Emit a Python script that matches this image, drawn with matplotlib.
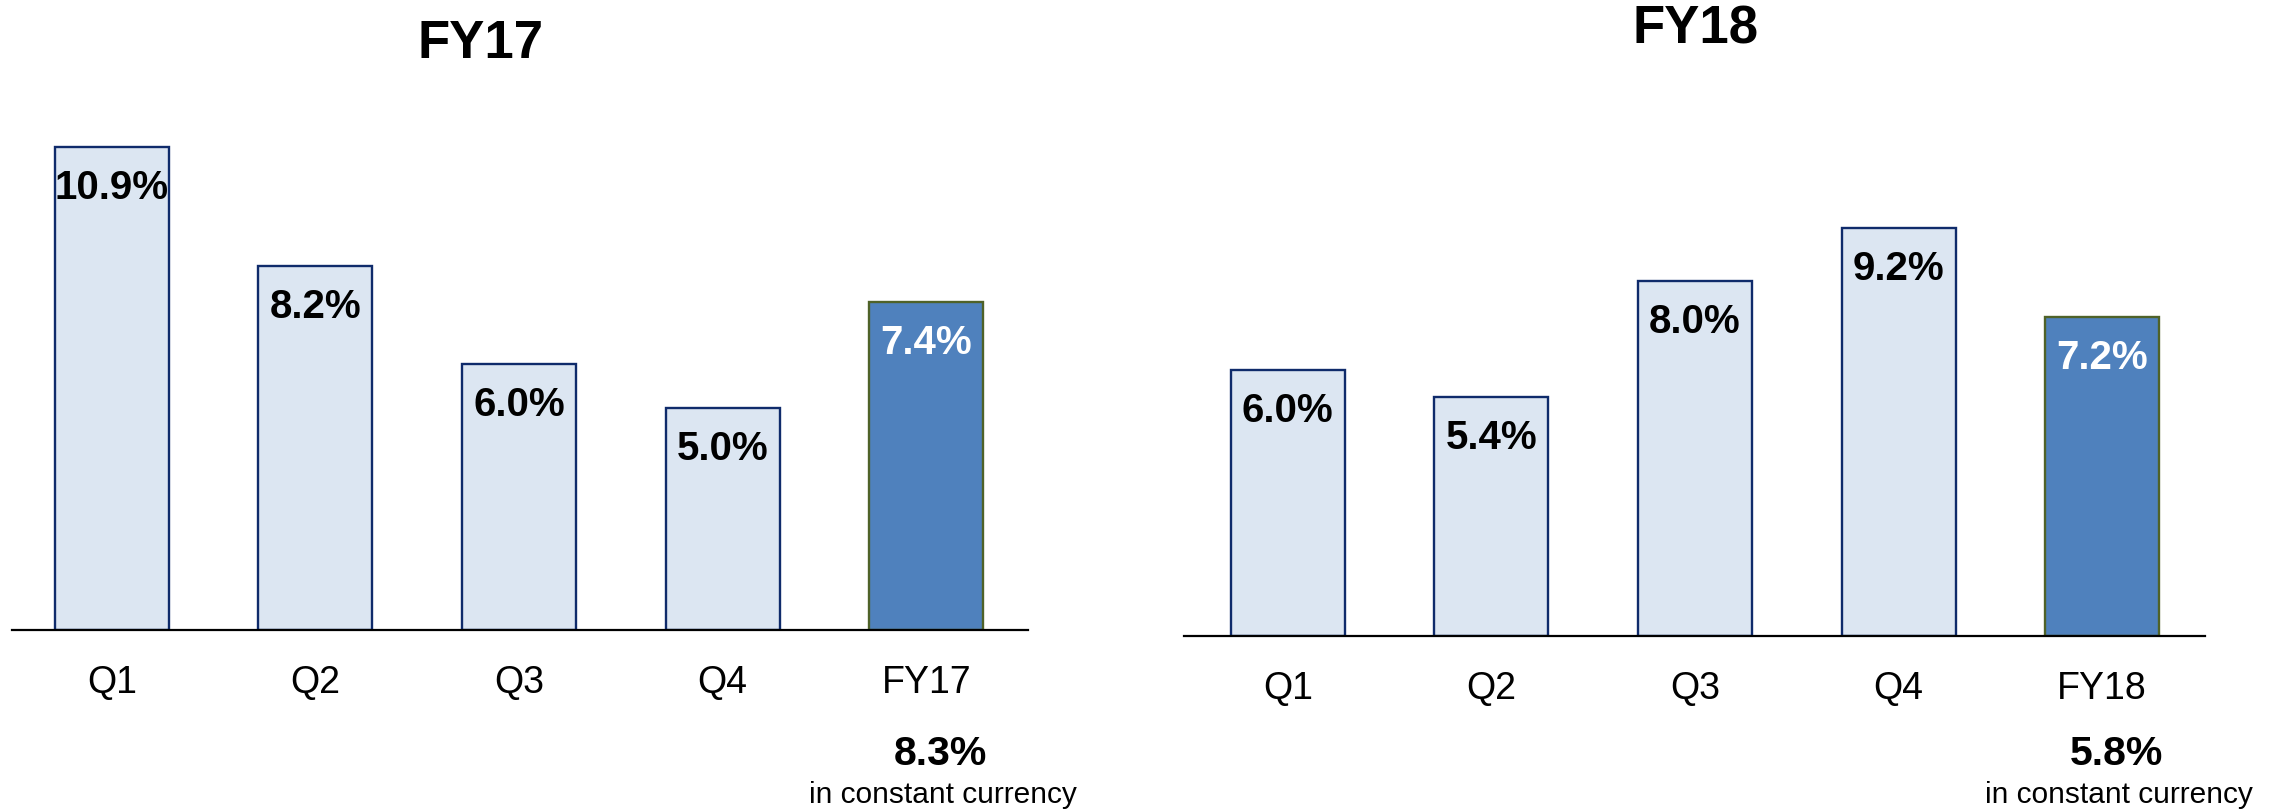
import numpy as np
import matplotlib.pyplot as plt
from matplotlib import transforms

plt.rcParams['font.family'] = ['Liberation Sans', 'DejaVu Sans']

# data
cats_17 = ['Q1', 'Q2', 'Q3', 'Q4', 'FY17']
vals_17 = [10.9, 8.2, 6.0, 5.0, 7.4]
cats_18 = ['Q1', 'Q2', 'Q3', 'Q4', 'FY18']
vals_18 = [6.0, 5.4, 8.0, 9.2, 7.2]
cc_17 = '8.3%'
cc_18 = '5.8%'

light_fill = '#DCE6F2'
light_edge = '#0F2B6B'
dark_fill = '#4F81BD'
dark_edge = '#4F6228'

W, H = 2287, 809
fig = plt.figure(figsize=(W / 100, H / 100), dpi=100)


def draw_panel(rect, cats, vals, title, title_xy, cc, xlim):
    ax = fig.add_axes(rect)
    x = np.arange(len(cats))
    fills = [light_fill] * (len(cats) - 1) + [dark_fill]
    edges = [light_edge] * (len(cats) - 1) + [dark_edge]
    ax.bar(x, vals, width=0.56, color=fills, edgecolor=edges, linewidth=1.7, zorder=2)
    ax.set_xlim(*xlim)
    ax.set_ylim(0, 12)
    for s in ['top', 'right', 'left']:
        ax.spines[s].set_visible(False)
    ax.spines['bottom'].set_linewidth(1.6)
    ax.spines['bottom'].set_zorder(3)
    ax.set_yticks([])
    ax.set_xticks(x)
    ax.set_xticklabels(cats, fontsize=27)
    ax.tick_params(axis='x', length=0, pad=25)
    # value labels inside the bars
    for i, v in enumerate(vals):
        col = 'white' if i == len(vals) - 1 else 'black'
        ax.annotate(f'{v:.1f}%', xy=(i, v), xytext=(0, -41), textcoords='offset pixels',
                    ha='center', va='center', fontsize=29, fontweight='bold', color=col)
    # constant currency note under the full-year bar
    tr = transforms.blended_transform_factory(ax.transData, fig.transFigure)
    ax.text(len(cats) - 1 + 0.07, 1 - 754 / H, cc, transform=tr, ha='center', va='center',
            fontsize=29.5, fontweight='bold')
    ax.text(len(cats) - 1 + 0.08, 1 - 795 / H, 'in constant currency', transform=tr,
            ha='center', va='center', fontsize=21.5)
    fig.text(title_xy[0] / W, 1 - title_xy[1] / H, title, ha='center', va='center',
             fontsize=38, fontweight='bold')
    return ax


draw_panel([12 / W, 1 - 630 / H, 1016 / W, 532 / H], cats_17, vals_17, 'FY17', (481, 44), cc_17,
           (-0.49, 4.5))
draw_panel([1184 / W, 1 - 636 / H, 1021 / W, 532 / H], cats_18, vals_18, 'FY18', (1696, 29), cc_18,
           (-0.51, 4.505))

fig.savefig('out.png', dpi=100)
